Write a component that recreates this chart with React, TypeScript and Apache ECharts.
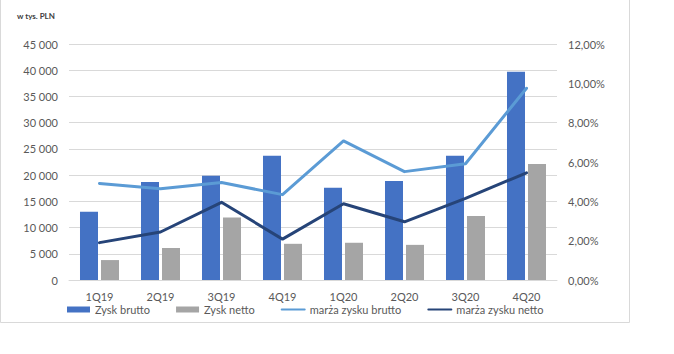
import React, { useEffect, useRef } from "react";
import * as echarts from "echarts";

const categories = ["1Q19", "2Q19", "3Q19", "4Q19", "1Q20", "2Q20", "3Q20", "4Q20"];
const zyskBrutto = [13000, 18700, 19900, 23700, 17600, 18900, 23700, 39700];
const zyskNetto = [3800, 6100, 11900, 6900, 7100, 6700, 12200, 22100];
const marzaBrutto = [4.91, 4.64, 4.96, 4.34, 7.07, 5.51, 5.91, 9.75];
const marzaNetto = [1.9, 2.44, 3.95, 2.08, 3.88, 2.96, 4.15, 5.45];

const FONT = "Lato, 'Liberation Sans', sans-serif";
const hiddenSymbol = { color: "rgba(0,0,0,0)", borderWidth: 0, borderColor: "rgba(0,0,0,0)" };

export default function App() {
  const ref = useRef<HTMLDivElement>(null);
  useEffect(() => {
    if (!ref.current) return;
    const chart = echarts.init(ref.current, undefined, { renderer: "svg" });
    chart.setOption({
      animation: false,
      backgroundColor: "#ffffff",
      textStyle: { fontFamily: FONT },
      grid: { left: 69, right: 117, top: 44, bottom: 74, containLabel: false },
      graphic: [
        { type: "line", shape: { x1: 0.5, y1: 0, x2: 0.5, y2: 322.5 }, style: { stroke: "#D9D9D9", lineWidth: 1 } },
        { type: "line", shape: { x1: 629.5, y1: 0, x2: 629.5, y2: 322.5 }, style: { stroke: "#D9D9D9", lineWidth: 1 } },
        { type: "line", shape: { x1: 0.5, y1: 322.5, x2: 629.5, y2: 322.5 }, style: { stroke: "#D9D9D9", lineWidth: 1 } },
        {
          type: "text",
          left: 17,
          top: 12,
          style: { text: "w tys. PLN", font: `bold 8px ${FONT}`, fill: "#404040" },
        },
      ],
      legend: {
        left: 67,
        top: 304,
        padding: 0,
        itemWidth: 23,
        itemHeight: 6,
        itemGap: 26,
        textStyle: { fontFamily: FONT, fontSize: 11, color: "#595959" },
        data: [
          { name: "Zysk brutto", icon: "rect" },
          { name: "Zysk netto", icon: "rect" },
          { name: "marża zysku brutto", itemStyle: hiddenSymbol },
          { name: "marża zysku netto", itemStyle: hiddenSymbol },
        ],
      },
      xAxis: {
        type: "category",
        data: categories,
        axisLine: { show: true, lineStyle: { color: "#D9D9D9", width: 1 } },
        axisTick: { show: false },
        axisLabel: { color: "#595959", fontSize: 11, fontFamily: FONT, margin: 11 },
      },
      yAxis: [
        {
          type: "value",
          min: 0,
          max: 45000,
          interval: 5000,
          axisLine: { show: false },
          axisTick: { show: false },
          splitLine: { show: true, lineStyle: { color: "#D9D9D9", width: 1 } },
          axisLabel: {
            color: "#595959",
            fontSize: 11,
            fontFamily: FONT,
            margin: 11,
            formatter: (v: number) => String(v).replace(/\B(?=(\d{3})+(?!\d))/g, " "),
          },
        },
        {
          type: "value",
          min: 0,
          max: 12,
          interval: 2,
          axisLine: { show: false },
          axisTick: { show: false },
          splitLine: { show: false },
          axisLabel: {
            color: "#595959",
            fontSize: 11,
            fontFamily: FONT,
            margin: 11,
            formatter: (v: number) => v.toFixed(2).replace(".", ",") + "%",
          },
        },
      ],
      series: [
        {
          name: "Zysk brutto",
          type: "bar",
          data: zyskBrutto,
          barWidth: 18,
          barGap: "16.7%",
          itemStyle: { color: "#4472C4" },
        },
        {
          name: "Zysk netto",
          type: "bar",
          data: zyskNetto,
          barWidth: 18,
          barGap: "16.7%",
          itemStyle: { color: "#A5A5A5" },
        },
        {
          name: "marża zysku brutto",
          type: "line",
          yAxisIndex: 1,
          data: marzaBrutto,
          symbol: "none",
          lineStyle: { color: "#5B9BD5", width: 3, cap: "round", join: "round" },
          itemStyle: { color: "#5B9BD5" },
        },
        {
          name: "marża zysku netto",
          type: "line",
          yAxisIndex: 1,
          data: marzaNetto,
          symbol: "none",
          lineStyle: { color: "#264478", width: 3, cap: "round", join: "round" },
          itemStyle: { color: "#264478" },
        },
      ],
    });
    return () => chart.dispose();
  }, []);
  return (
    <div
      ref={ref}
      style={{ position: "fixed", left: 0, top: 0, width: 674, height: 354, background: "#fff" }}
    />
  );
}
